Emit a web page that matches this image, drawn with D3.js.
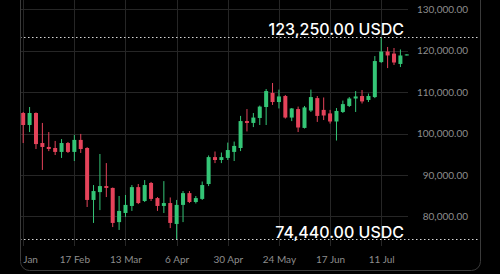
<!DOCTYPE html>
<html><head><meta charset="utf-8">
<script src="https://cdn.jsdelivr.net/npm/d3@7"></script>
<style>html,body{margin:0;padding:0;background:#000;overflow:hidden}svg{display:block}</style>
</head><body><svg id="c" width="500" height="274"></svg>
<script>
// Data: 3-day candles, BTC/USDC
const startDate = "2025-01-24";
const stepDays = 3;
const opens  = [104950,102050,104950,97700,96750,96500,95550,97700,95550,98450,96500,83950,85850,87300,86850,78600,80800,82500,87050,83700,88050,84400,82500,83200,78150,82750,85600,83450,84200,87800,94300,93600,94100,95550,96500,103000,102550,103750,106400,109800,107600,109050,103850,105900,101350,105550,108550,105700,104850,102900,105200,106650,108450,109050,108100,108800,117250,119800,119300,116800,118850];
const highs  = [105200,106400,105100,102550,100350,98200,98650,97950,99650,99900,96700,87550,95050,92850,86950,84900,85150,87550,87800,88750,88300,84650,88500,84550,83950,86100,86100,84900,88400,94700,95650,95400,97800,98050,104250,105900,104950,106750,110750,112200,110600,109300,106150,106500,106650,110600,109050,108700,105700,106150,107950,108800,110250,110500,109650,118700,123250,120900,120650,120300,119150];
const lows   = [97700,100350,96250,91200,95750,94800,94100,95300,93350,95300,82250,78400,81500,84650,77400,76700,79850,81300,82950,83450,83700,81300,80800,77150,74440,78600,83200,83100,83950,87300,92850,92850,93600,93350,95750,100500,101550,102050,102050,106900,106050,103600,103000,100350,101200,105200,102800,103250,102400,98300,104950,106400,105200,107250,107600,108550,117050,115800,116550,116050,118850];
const closes = [102050,104950,97450,96750,96250,95550,97700,95550,98450,96250,83950,86100,87300,86850,78400,81300,82750,87050,83200,87550,84200,82500,83200,78400,82750,85600,83450,84400,87550,94300,93600,94300,96000,97000,103000,102550,103850,106500,110250,107600,108950,103850,106050,101450,106300,108800,104250,104350,102900,105450,107100,108450,108950,107750,109050,117500,119800,118850,117150,118850,119100];
const yTicks = [80000,90000,100000,110000,120000,130000];
const xTickDates = ["2025-01-24","2025-02-17","2025-03-13","2025-04-06","2025-04-30","2025-05-24","2025-06-17","2025-07-11"];
const quote = "USDC";

const svg = d3.select("#c");
const parse = d3.utcParse("%Y-%m-%d");
const t0 = parse(startDate);
const dates = opens.map((_, i) => d3.utcDay.offset(t0, i * stepDays));

const x = d3.scaleUtc().domain([dates[0], dates[dates.length - 1]]).range([23.2, 406.8]);
const y = d3.scaleLinear().domain([80000, 130000]).range([216.3, 9.3]);

const green = "#34c576", red = "#e5435a";

// clip
const defs = svg.append("defs");
defs.append("clipPath").attr("id", "panel")
  .append("rect").attr("x", 21).attr("y", -10).attr("width", 459).attr("height", 280).attr("rx", 8);

// panel border
svg.append("rect").attr("x", 20.5).attr("y", -10).attr("width", 460).attr("height", 280.5)
  .attr("rx", 9).attr("fill", "none").attr("stroke", "#3a3a3a").attr("stroke-width", 1);

const g = svg.append("g").attr("clip-path", "url(#panel)");

// grid
g.append("g").selectAll("line").data(yTicks).join("line")
  .attr("x1", 20).attr("x2", 408)
  .attr("y1", d => Math.round(y(d)) + 0.5).attr("y2", d => Math.round(y(d)) + 0.5)
  .attr("stroke", "#262626").attr("stroke-width", 1);

const xTicks = xTickDates.map(parse);
g.append("g").selectAll("line").data(xTicks).join("line")
  .attr("x1", d => Math.round(x(d)) + 0.5).attr("x2", d => Math.round(x(d)) + 0.5)
  .attr("y1", -10).attr("y2", 246)
  .attr("stroke", "#262626").attr("stroke-width", 1);

// y axis labels
const yAxis = d3.axisRight(y).tickValues(yTicks).tickSize(0).tickFormat(d3.format(",.2f"));
const ya = svg.append("g").attr("transform", "translate(468,0)").call(yAxis);
ya.select(".domain").remove();
ya.selectAll("text").attr("x", 0).attr("text-anchor", "end")
  .attr("fill", "#8d8d8d").style("font-family", "Lato, 'Noto Sans', sans-serif").style("font-size", "10px");

// x axis labels
const fmtX = d3.utcFormat("%-d %b");
const xAxis = d3.axisBottom(x).tickValues(xTicks).tickSize(0).tickFormat(fmtX);
const xa = g.append("g").attr("transform", "translate(0,253)").call(xAxis);
xa.select(".domain").remove();
xa.selectAll("text").attr("fill", "#8d8d8d")
  .style("font-family", "Lato, 'Noto Sans', sans-serif").style("font-size", "10px");

// candles
const data = opens.map((o, i) => ({ d: dates[i], o, h: highs[i], l: lows[i], c: closes[i] }));
const cg = g.append("g");
cg.selectAll("line.w").data(data).join("line").attr("class", "w")
  .attr("x1", d => x(d.d)).attr("x2", d => x(d.d))
  .attr("y1", d => y(d.h)).attr("y2", d => y(d.l))
  .attr("stroke", d => d.c >= d.o ? green : red).attr("stroke-width", 1);
cg.selectAll("rect.b").data(data).join("rect").attr("class", "b")
  .attr("x", d => x(d.d) - 2).attr("width", 4)
  .attr("y", d => y(Math.max(d.o, d.c)))
  .attr("height", d => Math.max(1, Math.abs(y(d.o) - y(d.c))))
  .attr("fill", d => d.c >= d.o ? green : red);

// hi / lo markers
const hi = d3.max(highs), lo = d3.min(lows);
const fmtP = d3.format(",.2f");
[[hi, -3], [lo, -1.5]].forEach(([v, dy]) => {
  const yy = Math.round(y(v)) + 0.5;
  g.append("line").attr("x1", 20).attr("x2", 481).attr("y1", yy).attr("y2", yy)
    .attr("stroke", "#d8d8d8").attr("stroke-width", 1).attr("stroke-dasharray", "1.5,2.5");
  g.append("text").attr("x", 404).attr("y", yy + dy).attr("text-anchor", "end")
    .attr("fill", "#ffffff").style("font-family", "Inter, 'Noto Sans', sans-serif")
    .style("font-size", "16px").style("font-weight", 500)
    .text(fmtP(v) + " " + quote);
});
</script></body></html>
